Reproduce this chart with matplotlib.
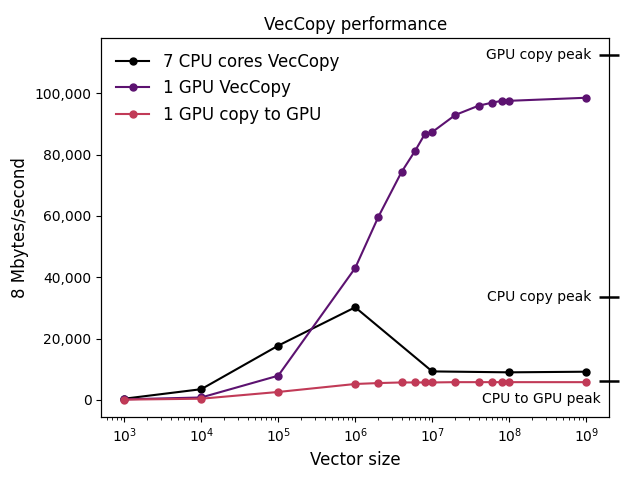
import matplotlib
matplotlib.use("Agg")
import matplotlib.pyplot as plt
from matplotlib.ticker import FuncFormatter

cpu_x = [1e3, 1e4, 1e5, 1e6, 1e7, 1e8, 1e9]
cpu_y = [400, 3500, 17700, 30200, 9300, 9000, 9200]

gpu_x = [1e3, 1e4, 1e5, 1e6, 2e6, 4e6, 6e6, 8e6, 1e7, 2e7, 4e7, 6e7, 8e7, 1e8, 1e9]
gpu_y = [200, 800, 7900, 43000, 59700, 74300, 81200, 86600, 87300, 92900, 95900, 96900, 97500, 97500, 98500]

h2d_x = [1e3, 1e4, 1e5, 1e6, 2e6, 4e6, 6e6, 8e6, 1e7, 2e7, 4e7, 6e7, 8e7, 1e8, 1e9]
h2d_y = [100, 400, 2600, 5200, 5500, 5700, 5700, 5700, 5700, 5800, 5800, 5800, 5800, 5800, 5800]

peak_vals = [112400, 33500, 6200]
peak_labels = ["GPU copy peak", "CPU copy peak", "CPU to GPU peak"]

fig, ax = plt.subplots(figsize=(6.4, 4.8), dpi=100)
ax.plot(cpu_x, cpu_y, '-o', color='black', ms=5, label='7 CPU cores VecCopy')
ax.plot(gpu_x, gpu_y, '-o', color='#5c1270', ms=5, label='1 GPU VecCopy')
ax.plot(h2d_x, h2d_y, '-o', color='#c13a57', ms=5, label='1 GPU copy to GPU')
ax.set_xscale('log')
ax.set_xlim(10**2.7, 10**9.3)
ax.set_ylim(-5600, 118000)
ax.yaxis.set_major_formatter(FuncFormatter(lambda v, p: f"{int(v):,}"))
ax.set_xlabel('Vector size', fontsize=12)
ax.set_ylabel('8 Mbytes/second', fontsize=12)
ax.set_title('VecCopy performance', fontsize=12)
ax.legend(loc='upper left', frameon=False, fontsize=12)

ax2 = ax.twinx()
ax2.set_ylim(ax.get_ylim())
ax2.set_yticks(peak_vals)
ax2.tick_params(axis='y', direction='inout', length=14, width=1.8, labelright=False)

tr = ax.get_yaxis_transform()
ax.text(0.965, peak_vals[0], peak_labels[0], transform=tr, ha='right', va='center', fontsize=10)
ax.text(0.965, peak_vals[1], peak_labels[1], transform=tr, ha='right', va='center', fontsize=10)
ax.text(0.983, peak_vals[2] - 6000, peak_labels[2], transform=tr, ha='right', va='center', fontsize=10)

fig.subplots_adjust(left=0.158, right=0.952, top=0.921, bottom=0.131)
fig.savefig('out.png', dpi=100)
